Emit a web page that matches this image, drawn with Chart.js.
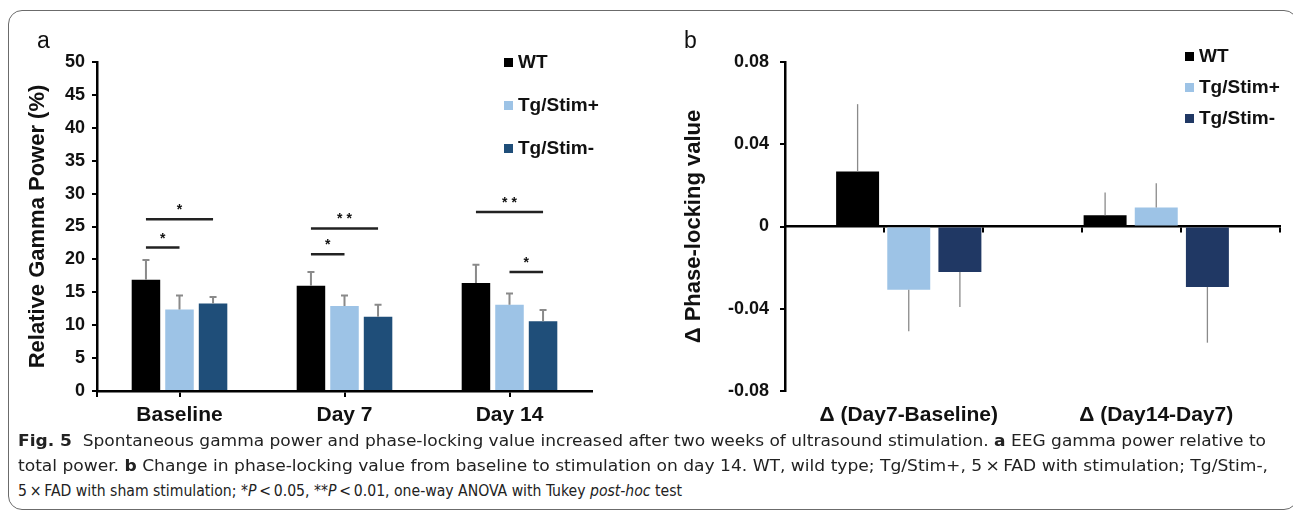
<!DOCTYPE html>
<html lang="en">
<head>
<meta charset="UTF-8">
<title>Fig. 5 - gamma power and phase-locking value</title>
<script src="https://cdn.jsdelivr.net/npm/chart.js"></script>
<style>
  body { margin: 0; background: #fff; width: 1293px; height: 521px; overflow: hidden; position: relative; font-family: 'Liberation Sans', Arial, sans-serif; }
  .frame { position: absolute; left: 8px; top: 10px; width: 1290px; height: 500px; border: 1.5px solid #6b6b6b; border-radius: 14px; box-sizing: border-box; }
  canvas { position: absolute; top: 0; }
  #chartA { left: 0; }
  #chartB { left: 640px; }
  .panel { position: absolute; font-size: 23px; color: #111; }
  .legend { position: absolute; font-weight: bold; font-size: 19px; color: #111; }
  .legend div { position: absolute; white-space: nowrap; height: 22px; line-height: 22px; }
  .legend span { display: inline-block; width: 9px; height: 9px; margin-right: 5px; vertical-align: 1px; }
  .caption { position: absolute; left: 18px; font-family: 'DejaVu Sans Condensed', 'Liberation Sans Narrow', sans-serif; font-size: 16px; color: #222; white-space: nowrap; transform-origin: 0 0; }
</style>
</head>
<body>
<div class="frame"></div>
<canvas id="chartA" width="640" height="440"></canvas>
<canvas id="chartB" width="653" height="440"></canvas>
<div class="panel" style="left:37px;top:27px;">a</div>
<div class="panel" style="left:684px;top:27px;">b</div>
<div class="legend" id="legendA"></div>
<div class="legend" id="legendB"></div>

<div class="caption" style="top:431px;" data-w="1248"><b>Fig. 5</b>&nbsp; Spontaneous gamma power and phase-locking value increased after two weeks of ultrasound stimulation. <b>a</b> EEG gamma power relative to</div>
<div class="caption" style="top:456px;" data-w="1250">total power. <b>b</b> Change in phase-locking value from baseline to stimulation on day 14. WT, wild type; Tg/Stim+, 5&thinsp;×&thinsp;FAD with stimulation; Tg/Stim-,</div>
<div class="caption" style="top:481px;" data-w="664">5&thinsp;×&thinsp;FAD with sham stimulation; *<i>P</i>&thinsp;&lt;&thinsp;0.05, **<i>P</i>&thinsp;&lt;&thinsp;0.01, one-way ANOVA with Tukey <i>post-hoc</i> test</div>

<script>
// ---- data ----
const seriesNames = ['WT', 'Tg/Stim+', 'Tg/Stim-'];
const colorsA = ['#000000', '#9dc3e6', '#1f4e79'];
const colorsB = ['#000000', '#9dc3e6', '#203864'];

// panel a: relative gamma power (%)
const daysA = ['Baseline', 'Day 7', 'Day 14'];
const wtA = [16.9, 16.0, 16.4];
const stimPlusA = [12.4, 12.9, 13.1];
const stimMinusA = [13.3, 11.3, 10.6];
const wtErrA = [3.0, 2.1, 2.8];
const stimPlusErrA = [2.1, 1.6, 1.7];
const stimMinusErrA = [1.0, 1.8, 1.7];
const ticksA = [0, 5, 10, 15, 20, 25, 30, 35, 40, 45, 50];
// significance: [group, fromSeries, toSeries, height, label]
const sigA = [
  [0, 0, 2, 26.1, '*'],
  [0, 0, 1, 21.8, '*'],
  [1, 0, 2, 24.7, '**'],
  [1, 0, 1, 20.8, '*'],
  [2, 0, 2, 27.2, '**'],
  [2, 1, 2, 18.1, '*']
];

// panel b: change in phase-locking value
const periodsB = ['\u0394 (Day7-Baseline)', '\u0394 (Day14-Day7)'];
const wtB = [0.0267, 0.0055];
const stimPlusB = [-0.0307, 0.0092];
const stimMinusB = [-0.0221, -0.0294];
const wtErrB = [0.0328, 0.011];
const stimPlusErrB = [0.0202, 0.0118];
const stimMinusErrB = [0.017, 0.0271];
const ticksB = [-0.08, -0.04, 0, 0.04, 0.08];

const FONT = "'Liberation Sans', Arial, sans-serif";

// error bars drawn away from zero
const errorBars = {
  id: 'errorBars',
  afterDatasetsDraw(chart, args, opts) {
    const ctx = chart.ctx;
    const y = chart.scales.y;
    ctx.save();
    ctx.strokeStyle = opts.color;
    ctx.lineWidth = opts.width;
    opts.errors.forEach((errs, di) => {
      const meta = chart.getDatasetMeta(di);
      const vals = chart.data.datasets[di].data;
      meta.data.forEach((bar, i) => {
        const v = vals[i];
        const end = v >= 0 ? v + errs[i] : v - errs[i];
        const y0 = y.getPixelForValue(v);
        const y1 = y.getPixelForValue(end);
        ctx.beginPath();
        ctx.moveTo(bar.x, y0);
        ctx.lineTo(bar.x, y1);
        if (opts.cap) {
          ctx.moveTo(bar.x - opts.cap, y1);
          ctx.lineTo(bar.x + opts.cap, y1);
        }
        ctx.stroke();
      });
    });
    ctx.restore();
  }
};

// significance lines with stars
const sigLines = {
  id: 'sigLines',
  afterDatasetsDraw(chart, args, opts) {
    const ctx = chart.ctx;
    const y = chart.scales.y;
    ctx.save();
    ctx.strokeStyle = '#222';
    ctx.lineWidth = 2.5;
    ctx.fillStyle = '#111';
    ctx.font = 'bold 14px ' + FONT;
    ctx.textAlign = 'center';
    ctx.textBaseline = 'alphabetic';
    opts.items.forEach(([g, a, b, h, label]) => {
      const x1 = chart.getDatasetMeta(a).data[g].x;
      const x2 = chart.getDatasetMeta(b).data[g].x;
      const py = y.getPixelForValue(h);
      ctx.beginPath();
      ctx.moveTo(x1, py);
      ctx.lineTo(x2, py);
      ctx.stroke();
      ctx.fillText(label.split('').join(' '), (x1 + x2) / 2, py - 5);
    });
    ctx.restore();
  }
};

function makeLegend(el, left, rows, colors) {
  seriesNames.forEach((name, i) => {
    const d = document.createElement('div');
    d.style.left = left + 'px';
    d.style.top = (rows[i] - 11) + 'px';
    d.innerHTML = '<span style="background:' + colors[i] + '"></span>' + name;
    el.appendChild(d);
  });
}
makeLegend(document.getElementById('legendA'), 504, [62, 105, 148], colorsA);
makeLegend(document.getElementById('legendB'), 1185, [56, 87, 118], colorsB);

function datasets(vals, colors) {
  return vals.map((v, i) => ({
    label: seriesNames[i],
    data: v,
    backgroundColor: colors[i],
    borderWidth: 0,
    categoryPercentage: 0.61,
    barPercentage: 0.85
  }));
}

const axisFont = { family: FONT, size: 18, weight: 'bold' };
const labelFont = { family: FONT, size: 21, weight: 'bold' };
const titleFont = { family: FONT, size: 22, weight: 'bold' };

// ---- panel a ----
new Chart(document.getElementById('chartA'), {
  type: 'bar',
  data: { labels: daysA, datasets: datasets([wtA, stimPlusA, stimMinusA], colorsA) },
  options: {
    responsive: false,
    animation: false,
    devicePixelRatio: 1,
    layout: { padding: { top: 62, right: 48, bottom: 0, left: 0 } },
    plugins: {
      legend: { display: false },
      tooltip: { enabled: false },
      errorBars: { errors: [wtErrA, stimPlusErrA, stimMinusErrA], color: '#8a8a8a', width: 2, cap: 3.5 },
      sigLines: { items: sigA }
    },
    scales: {
      x: {
        afterFit: s => { s.height = 49; },
        border: { color: '#000', width: 2.5 },
        grid: { drawOnChartArea: false, offset: false, color: '#000', lineWidth: 2, tickLength: 6 },
        ticks: { color: '#111', font: labelFont, padding: 6 }
      },
      edge: {
        type: 'linear',
        axis: 'x',
        position: { y: 0 },
        min: 0, max: 3,
        border: { display: false },
        afterBuildTicks: s => { s.ticks = [{ value: 3 }]; },
        grid: { drawOnChartArea: false, color: '#000', lineWidth: 2, tickLength: 6 },
        ticks: { display: false }
      },
      y: {
        min: 0, max: 50,
        afterFit: s => { s.width = 97; },
        afterBuildTicks: s => { s.ticks = ticksA.map(v => ({ value: v })); },
        border: { color: '#000', width: 2.5 },
        grid: { drawOnChartArea: false, color: '#000', lineWidth: 2, tickLength: 5 },
        ticks: { color: '#111', font: axisFont, padding: 7 },
        title: { display: true, text: 'Relative Gamma Power (%)', color: '#111', font: titleFont, padding: { top: 25, bottom: 0 } }
      }
    }
  },
  plugins: [errorBars, sigLines]
});

// ---- panel b ----
const dsB = datasets([wtB, stimPlusB, stimMinusB], colorsB);
dsB.forEach(d => { d.categoryPercentage = 0.62; d.barPercentage = 0.84; });
new Chart(document.getElementById('chartB'), {
  type: 'bar',
  data: { labels: periodsB, datasets: dsB },
  options: {
    responsive: false,
    animation: false,
    devicePixelRatio: 1,
    layout: { padding: { top: 62, right: 13, bottom: 0, left: 0 } },
    plugins: {
      legend: { display: false },
      tooltip: { enabled: false },
      errorBars: { errors: [wtErrB, stimPlusErrB, stimMinusErrB], color: '#8a8a8a', width: 1.3, cap: 0 }
    },
    scales: {
      x: {
        afterFit: s => { s.height = 49; },
        border: { display: false },
        grid: { display: false, drawTicks: false },
        ticks: { color: '#111', font: labelFont, padding: 12 }
      },
      zero: {
        type: 'linear',
        axis: 'x',
        position: { y: 0 },
        min: 0, max: 2,
        border: { color: '#000', width: 2.5 },
        grid: { drawOnChartArea: false, color: '#000', lineWidth: 2, tickLength: 5 },
        ticks: { display: false, stepSize: 0.5 }
      },
      y: {
        min: -0.08, max: 0.08,
        afterFit: s => { s.width = 145; },
        afterBuildTicks: s => { s.ticks = ticksB.map(v => ({ value: v })); },
        border: { color: '#000', width: 2.5 },
        grid: { drawOnChartArea: false, color: '#000', lineWidth: 2, tickLength: 5 },
        ticks: { color: '#111', font: axisFont, padding: 11, callback: v => (v === 0 ? '0' : v.toFixed(2)) },
        title: { display: true, text: '\u0394 Phase-locking value', color: '#111', font: titleFont, padding: { top: 41, bottom: 0 } }
      }
    }
  },
  plugins: [errorBars]
});

// fit each caption line to its width in the figure
document.querySelectorAll('.caption').forEach(el => {
  const w = el.getBoundingClientRect().width;
  el.style.transform = 'scaleX(' + (el.dataset.w / w) + ')';
});
</script>
</body>
</html>
